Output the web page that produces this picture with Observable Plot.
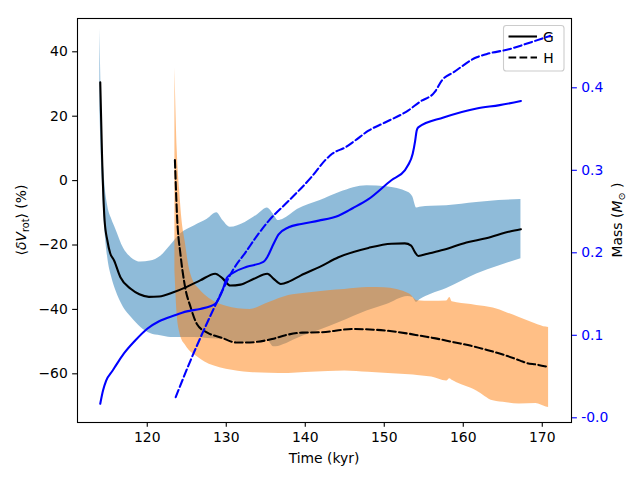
<!DOCTYPE html>
<html><head><meta charset="utf-8">
<script src="https://cdn.jsdelivr.net/npm/d3@7"></script>
<script src="https://cdn.jsdelivr.net/npm/@observablehq/plot@0.6"></script>
<style>body{margin:0;background:#fff}</style>
</head><body><div id="chart"></div>
<script>
// ---- Data ----
// G: mean rotation deviation (%)
const gLineT = [114.05,114.27,114.6,114.95,115.3,115.8,116.6,117.9,119.0,120.2,121.5,123.4,125.0,126.7,128.6,129.5,130.5,131.8,133.5,135.2,136.0,136.9,138.0,139.4,141.9,144.2,148.0,150.9,152.6,153.4,153.9,154.3,155.5,157.5,160.4,162.9,165.9,167.3];
const gLineV = [30.5,8.3,-12.4,-18.6,-22.5,-24.8,-30,-33.6,-35.3,-36.1,-36,-34.6,-33,-31,-28.9,-30.3,-32.6,-32.3,-30.5,-28.9,-30.5,-32.1,-31.3,-29.5,-26.7,-23.8,-20.9,-19.6,-19.5,-20.2,-22.3,-23.4,-22.7,-21.5,-19.2,-17.9,-15.8,-15.1];
// G: spread band
const gBandT  = [114.0,114.3,114.6,115.0,115.5,116.0,117.0,118.0,119.2,120.4,121.7,123.0,124.2,126.0,127.6,128.8,129.6,130.5,132.4,134.0,135.2,136.0,136.6,137.2,139.0,141.9,144.4,147.8,150.3,153.0,153.6,154.1,154.5,156.0,157.9,161.7,164.5,167.3];
const gBandLo = [22,0,-14,-24,-30,-34,-39.4,-42.5,-45.6,-47.5,-48.2,-48.7,-48.7,-48.7,-49,-49.2,-49.3,-49.6,-50.3,-49.8,-49.5,-51.6,-51.5,-51,-49,-46.4,-44,-40.5,-38.5,-36,-36.3,-37.8,-37,-35.2,-33.5,-29,-26.5,-24.3];
const gBandHi = [47,14,0,-8,-12,-15,-21,-24,-25.3,-25,-23.5,-20,-16.6,-14,-12,-10,-12.5,-14.5,-13,-10.5,-8.5,-10.5,-12.4,-12,-9,-6.2,-3.6,-1.6,-1.9,-3.6,-5,-8.5,-8.3,-8,-7.8,-6.8,-6.2,-5.9];
// H: mean rotation deviation (%)
const hLineT = [123.5,123.8,124.2,124.8,125.5,126.3,127.6,129.3,131.4,132.4,135.8,137.5,139.6,141.9,146.0,150.3,153.0,154.6,156.5,158.8,161.0,163.0,165.0,167.2,168.1,169.2,170.8];
const hLineV = [6.4,-12.4,-22.8,-33.2,-39.4,-44.6,-47.2,-48.7,-50.3,-50.3,-49.2,-48,-47.2,-47.1,-46.1,-46.6,-47.5,-48.2,-49,-50.2,-51.3,-52.6,-54,-55.9,-56.7,-57.1,-57.9];
// H: spread band
const hBandT  = [123.5,123.8,124.1,124.4,124.8,125.3,125.8,126.5,127.3,128.4,130.0,131.5,133.0,135.5,137.9,140.0,142.9,145.0,148.0,150.0,153.2,154.2,156.0,157.9,158.3,158.6,161.0,161.7,163.8,165.5,167.1,169.2,170.5,170.8];
const hBandLo = [-28,-42,-47,-49.5,-51,-52.7,-53.8,-55,-56.3,-57.5,-58.6,-59.2,-59.6,-59.8,-59.9,-59.6,-59.3,-59.1,-59.5,-59.8,-60.3,-60.5,-61,-62.2,-61.5,-62,-64.5,-65.3,-68.4,-69,-69.4,-69.2,-70.3,-70.5];
const hBandHi = [35,9,-3,-12.4,-19,-27,-31,-33.5,-35.5,-37.5,-39,-39.8,-40,-37.8,-35.7,-35,-34.2,-33.8,-33.2,-33.3,-35.2,-37.3,-37.5,-37.4,-36.3,-37.6,-38.5,-38.8,-39.6,-41,-42.5,-44.5,-45.5,-45.6];
// Mass (M_sun)
const massGT = [114.05,114.4,114.8,115.6,116.2,117.05,118.5,120.0,121.5,123.4,125.0,126.7,128.6,129.5,130.1,130.9,132.6,134.7,135.2,135.8,136.2,136.6,137.9,139.5,141.7,144.2,146.0,148.0,150.9,152.6,153.0,153.6,153.9,154.1,154.3,157.5,161.7,164.6,167.3];
const massGM = [0.017,0.033,0.045,0.057,0.066,0.078,0.094,0.108,0.117,0.124,0.129,0.132,0.138,0.154,0.170,0.176,0.183,0.189,0.195,0.207,0.215,0.222,0.231,0.235,0.239,0.245,0.254,0.265,0.288,0.300,0.306,0.320,0.335,0.348,0.352,0.364,0.375,0.379,0.384];
const massHT = [123.6,125.5,127.1,129.3,130.9,132.4,134.0,135.4,137.9,140.8,142.5,143.4,145.1,146.3,148.0,150.1,153.1,154.5,156.4,157.3,158.8,161.7,163.0,165.9,168.5,171.0];
const massHM = [0.025,0.070,0.105,0.150,0.180,0.200,0.222,0.239,0.263,0.292,0.312,0.320,0.328,0.336,0.348,0.358,0.373,0.383,0.395,0.409,0.419,0.437,0.441,0.447,0.455,0.463];
// Ticks
const xTicks = [120,130,140,150,160,170];
const yTicks = [-60,-40,-20,0,20,40];
const massTicks = [0.0,0.1,0.2,0.3,0.4];
const legendLabels = ["G","H"];

// ---- Tables ----
const gLine = gLineT.map((t,i)=>({t, v:gLineV[i]}));
const hLine = hLineT.map((t,i)=>({t, v:hLineV[i]}));
const gBand = gBandT.map((t,i)=>({t, lo:gBandLo[i], hi:gBandHi[i]}));
const hBand = hBandT.map((t,i)=>({t, lo:hBandLo[i], hi:hBandHi[i]}));
const yDomain = [-75.12, 50.34];
const massDomain = [-0.0057, 0.484];
const massToV = d3.scaleLinear(massDomain, yDomain);
const massG = massGT.map((t,i)=>({t, v:massToV(massGM[i])}));
const massH = massHT.map((t,i)=>({t, v:massToV(massHM[i])}));

const minus = d => d < 0 ? "\u2212" + Math.abs(d) : String(d);
const LW = 2.08;
const dash = "7.7,3.33";
const FS = 13.9;

const plot = Plot.plot({
  width: 640, height: 480,
  marginLeft: 77, marginRight: 69, marginTop: 18, marginBottom: 58,
  style: {fontFamily: "DejaVu Sans", fontSize: FS + "px", background: "white", color: "black"},
  x: {domain: [111.17, 173.7]},
  y: {domain: yDomain},
  marks: [
    Plot.areaY(gBand, {x:"t", y1:"lo", y2:"hi", fill:"#1f77b4", fillOpacity:0.5, curve:"monotone-x"}),
    Plot.areaY(hBand, {x:"t", y1:"lo", y2:"hi", fill:"#ff7f0e", fillOpacity:0.5, curve:"monotone-x"}),
    Plot.line(gLine, {x:"t", y:"v", stroke:"black", strokeWidth:LW, curve:"monotone-x"}),
    Plot.line(hLine, {x:"t", y:"v", stroke:"black", strokeWidth:LW, strokeDasharray:dash, curve:"monotone-x"}),
    Plot.line(massG, {x:"t", y:"v", stroke:"blue", strokeWidth:LW, curve:"monotone-x"}),
    Plot.line(massH, {x:"t", y:"v", stroke:"blue", strokeWidth:LW, strokeDasharray:dash, curve:"monotone-x"}),
    Plot.axisX(xTicks, {anchor:"bottom", tickSize:4.86, tickPadding:4.86, strokeWidth:1.1, label:null, tickFormat:d=>String(d)}),
    Plot.axisY(yTicks, {anchor:"left", tickSize:4.86, tickPadding:4.86, strokeWidth:1.1, label:null, tickFormat:minus}),
    Plot.axisY(massTicks.map(m=>massToV(m)), {anchor:"right", tickSize:4.86, tickPadding:4.86, strokeWidth:1.1, label:null, color:"blue",
      tickFormat: v => massToV.invert(v).toFixed(1)}),
    Plot.frame({stroke:"black", strokeWidth:1.1})
  ]
});

const svg = d3.select(plot);
// Legend (inserted beneath the mass lines, as in the reference)
const leg = d3.create("svg:g").attr("font-family","DejaVu Sans").attr("font-size",FS);
leg.append("rect").attr("x",503.5).attr("y",25.5).attr("width",60.5).attr("height",45.5).attr("rx",2.8)
  .attr("fill","white").attr("fill-opacity",0.8).attr("stroke","#cccccc").attr("stroke-width",1.1);
const rowsY = [36.5, 57.5];
legendLabels.forEach((lab,i)=>{
  leg.append("line").attr("x1",508.5).attr("x2",537).attr("y1",rowsY[i]).attr("y2",rowsY[i])
    .attr("stroke","black").attr("stroke-width",LW).attr("stroke-dasharray", i ? dash : null);
  leg.append("text").attr("x",548.5).attr("y",rowsY[i]).attr("dy","0.36em").attr("fill","black").text(lab);
});
const lineGroups = plot.querySelectorAll('g[aria-label="line"]');
if (lineGroups.length >= 3) lineGroups[2].parentNode.insertBefore(leg.node(), lineGroups[2]);
else plot.appendChild(leg.node());

// Axis labels
const lab = (x,y,rot) => svg.append("text").attr("transform",`translate(${x},${y})${rot?" rotate(-90)":""}`)
  .attr("text-anchor","middle").attr("font-family","DejaVu Sans").attr("font-size",FS).attr("fill","black");
lab(324, 463, false).text("Time (kyr)");
const yl = lab(26, 220, true);
yl.append("tspan").text("\u27E8");
yl.append("tspan").attr("font-style","italic").text("\u03B4V");
yl.append("tspan").attr("font-size",9.7).attr("dy",3).text("rot");
yl.append("tspan").attr("dy",-3).text("\u27E9 (%)");
const ml = lab(622, 220, true);
ml.append("tspan").text("Mass (");
ml.append("tspan").attr("font-style","italic").text("M");
ml.append("tspan").attr("font-size",9.7).attr("dy",3).text("\u2299");
ml.append("tspan").attr("dy",-3).text(" )");

document.getElementById("chart").appendChild(plot);
</script>
</body></html>
